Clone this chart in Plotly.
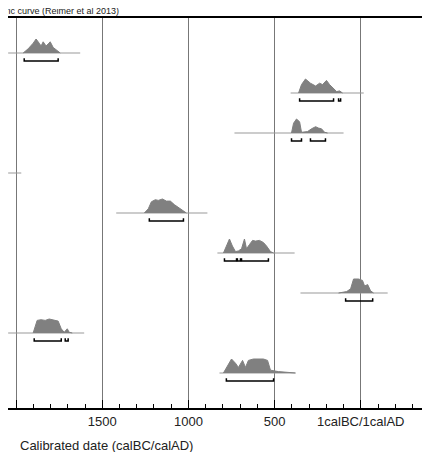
import plotly.graph_objects as go

# years: positive = calBC, negative = calAD
rows = [1, 2, 3, 4, 5, 6, 7, 8, 9]
baselines = [(2046, 1628), (407, -17), (733, 100), (2046, 1970), (1419, 890),
             (832, 384), (350, -156), (2046, 1605), (820, 379)]
dist_years = [
    [1959, 1930, 1901, 1884, 1866, 1855, 1843, 1826, 1814, 1802, 1785, 1756, 1744],
    [361, 344, 321, 292, 262, 239, 222, 199, 181, 158, 140, 123, 106],
    [402, 390, 373, 355, 344, 309, 286, 262, 245, 228, 210, 193],
    [],
    [1256, 1233, 1215, 1192, 1175, 1151, 1128, 1105, 1082, 1058, 1029, 1012],
    [797, 780, 762, 745, 727, 710, 692, 675, 663, 646, 628, 611, 588, 565, 547, 524, 506],
    [129, 82, 59, 42, 13, -10, -22, -40, -57, -74],
    [1901, 1889, 1878, 1855, 1831, 1808, 1779, 1756, 1738, 1721, 1703, 1692, 1674],
    [797, 774, 750, 727, 710, 686, 669, 652, 623, 565, 541, 524, 478, 379],
]
dist_probs = [
    [0, 0.3, 0.7, 1.0, 0.7, 0.5, 0.8, 0.5, 0.65, 0.8, 0.4, 0.1, 0],
    [0, 0.6, 1.0, 0.7, 0.5, 0.7, 0.6, 0.9, 0.6, 0.3, 0.1, 0.15, 0],
    [0, 0.7, 1.0, 0.8, 0.05, 0.1, 0.3, 0.45, 0.35, 0.3, 0.05, 0],
    [],
    [0, 0.3, 0.8, 0.95, 0.9, 1.0, 0.85, 0.85, 0.6, 0.4, 0.15, 0],
    [0, 0.5, 1.0, 0.5, 0.1, 0.15, 0.3, 1.0, 0.3, 0.6, 0.9, 0.85, 0.9, 0.75, 0.5, 0.1, 0],
    [0, 0.1, 0.3, 1.0, 1.0, 0.9, 0.5, 0.6, 0.15, 0],
    [0, 0.4, 0.9, 0.95, 0.9, 1.0, 0.9, 0.85, 0.3, 0.05, 0.3, 0.05, 0],
    [0, 0.5, 1.0, 0.7, 0.4, 0.9, 0.4, 0.9, 1.0, 1.0, 0.9, 0.2, 0.1, 0],
]
ranges = [
    [(1953, 1756)],
    [(355, 158), (129, 117)],
    [(402, 344), (292, 205)],
    [],
    [(1227, 1029)],
    [(791, 721), (716, 698), (692, 536)],
    [(88, -69)],
    [(1895, 1738), (1715, 1698)],
    [(780, 506)],
]
tick_vals = [2000, 1500, 1000, 500, 0]
tick_text = ["2000", "1500", "1000", "500", "1calBC/1calAD"]

H = 0.35
fig = go.Figure()
for r, base, xs, ps, rg in zip(rows, baselines, dist_years, dist_probs, ranges):
    y0 = -r
    fig.add_trace(go.Scatter(x=list(base), y=[y0, y0], mode="lines",
                             line=dict(color="#999999", width=1), hoverinfo="skip"))
    if xs:
        fig.add_trace(go.Scatter(x=xs, y=[y0 + p * H for p in ps], mode="lines",
                                 fill="toself", fillcolor="#808080",
                                 line=dict(color="#808080", width=1), hoverinfo="skip"))
    yb = y0 - 0.2
    for a, b in rg:
        fig.add_trace(go.Scatter(x=[a, a, b, b], y=[yb + 0.07, yb, yb, yb + 0.07],
                                 mode="lines", line=dict(color="black", width=1.5),
                                 hoverinfo="skip"))

fig.update_xaxes(range=[2047, -419], tickvals=tick_vals, ticktext=tick_text,
                 automargin=False,
                 showgrid=True, gridcolor="#777777", gridwidth=1, zeroline=False,
                 showline=True, mirror=True, linecolor="black", linewidth=2,
                 ticks="inside", ticklen=8, tickcolor="black",
                 minor=dict(ticks="inside", dtick=100, ticklen=4, tickcolor="black", showgrid=False),
                 tickfont=dict(family="Liberation Sans, Arial", size=13, color="#222"))
fig.update_yaxes(range=[-9.875, -0.125], showgrid=False, zeroline=False, automargin=False,
                 showticklabels=False, showline=False)
fig.add_shape(type="line", xref="paper", yref="paper", x0=1, x1=1, y0=0, y1=1,
              line=dict(color="black", width=2))
fig.add_annotation(text="IntCal13 atmospheric curve (Reimer et al 2013)", xref="paper",
                   yref="paper", x=0.266, y=1.0, xanchor="right", yanchor="bottom",
                   showarrow=False, font=dict(family="Liberation Sans, Arial", size=9, color="#222"))
fig.add_annotation(text="Calibrated date (calBC/calAD)", xref="paper", yref="paper",
                   x=0.023, y=-0.097, xanchor="left", yanchor="middle", showarrow=False,
                   font=dict(family="Liberation Sans, Arial", size=13, color="#222"))
fig.update_layout(width=430, height=452, margin=dict(l=0, r=5, t=10, b=52, autoexpand=False),
                  plot_bgcolor="white", paper_bgcolor="white", showlegend=False)
fig.write_html("out.html")
